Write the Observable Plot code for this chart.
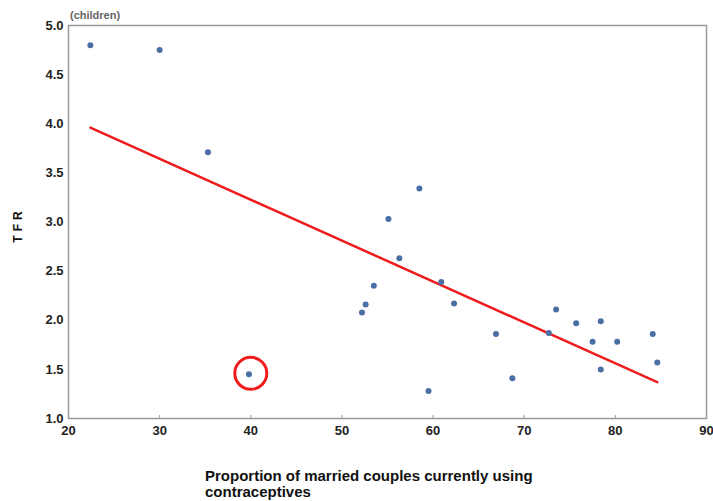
<!DOCTYPE html>
<html>
<head>
<meta charset="utf-8">
<script src="https://cdn.jsdelivr.net/npm/d3@7"></script>
<script src="https://cdn.jsdelivr.net/npm/@observablehq/plot@0.6"></script>
<style>
  html, body { margin: 0; padding: 0; background: #fff; }
  #chart { width: 713px; height: 501px; }
</style>
</head>
<body>
<div id="chart"></div>
<script>
// Proportion of married couples using contraceptives (%) and TFR (children)
const contraceptionPct = [22.4, 30.0, 35.3, 39.8, 58.5, 55.1, 56.3, 53.5, 52.6, 52.2, 60.9, 62.3, 59.5, 66.9, 68.7, 72.7, 73.5, 75.7, 77.5, 78.4, 78.4, 80.2, 84.1, 84.6];
const tfr =              [4.80, 4.75, 3.71, 1.45, 3.34, 3.03, 2.63, 2.35, 2.16, 2.08, 2.39, 2.17, 1.28, 1.86, 1.41, 1.87, 2.11, 1.97, 1.78, 1.99, 1.50, 1.78, 1.86, 1.57];

// Fitted trend line endpoints
const trendX = [22.4, 84.6];
const trendY = [3.96, 1.37];

// Highlighted point (circled in red)
const highlightX = [40.0];
const highlightY = [1.46];

const xTicks = [20, 30, 40, 50, 60, 70, 80, 90];
const yTicks = [1.0, 1.5, 2.0, 2.5, 3.0, 3.5, 4.0, 4.5, 5.0];

const points = contraceptionPct.map((x, i) => ({x, y: tfr[i]}));
const trend = trendX.map((x, i) => ({x, y: trendY[i]}));
const highlight = highlightX.map((x, i) => ({x, y: highlightY[i]}));

const chart = Plot.plot({
  width: 713,
  height: 501,
  marginLeft: 68,
  marginRight: 7,
  marginTop: 25,
  marginBottom: 83,
  style: {fontFamily: "'Liberation Sans', Arial, sans-serif", fontSize: "13px", fontWeight: "bold", color: "#222", background: "#fff"},
  x: {domain: [20, 90]},
  y: {domain: [1, 5]},
  marks: [
    Plot.axisX({ticks: xTicks, tickSize: -3, tickPadding: 10, label: null, stroke: "#999", tickFormat: d => d}),
    Plot.axisY({ticks: yTicks, tickSize: 0, tickPadding: 5, label: null, tickFormat: d => d.toFixed(1)}),
    Plot.frame({stroke: "#999", strokeWidth: 1.5}),
    Plot.line(trend, {x: "x", y: "y", stroke: "#ee1c1c", strokeWidth: 2.5}),
    Plot.dot(points, {x: "x", y: "y", r: 3, fill: "#4a6fa5", stroke: "none"}),
    Plot.dot(highlight, {x: "x", y: "y", r: 16, fill: "none", stroke: "#ee1c1c", strokeWidth: 3})
  ]
});

const svg = d3.select(chart);
svg.append("text")
  .attr("x", 70).attr("y", 19)
  .attr("text-anchor", "start")
  .attr("fill", "#666").attr("font-size", 11).attr("font-weight", "bold")
  .text("(children)");
svg.append("text")
  .attr("transform", "translate(22,225) rotate(-90)")
  .attr("text-anchor", "middle")
  .attr("fill", "#111").attr("font-size", 12).attr("font-weight", "bold")
  .attr("letter-spacing", "4px")
  .text("TFR");
const xl = svg.append("text")
  .attr("text-anchor", "start")
  .attr("fill", "#111").attr("font-size", 15).attr("font-weight", "bold");
xl.append("tspan").attr("x", 205).attr("y", 481).text("Proportion of married couples currently using");
xl.append("tspan").attr("x", 205).attr("y", 497).text("contraceptives");

document.getElementById("chart").appendChild(chart);
</script>
</body>
</html>
